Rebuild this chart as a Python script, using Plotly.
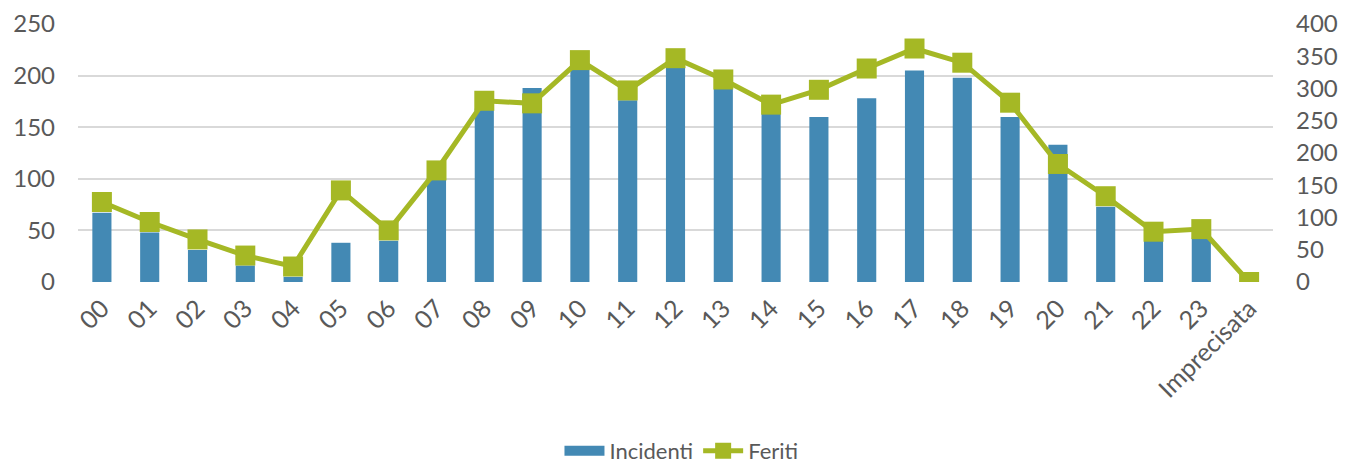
import plotly.graph_objects as go

# fasce orarie
ore = ["00", "01", "02", "03", "04", "05", "06", "07", "08", "09", "10", "11",
       "12", "13", "14", "15", "16", "17", "18", "19", "20", "21", "22", "23",
       "Imprecisata"]

incidenti = [67, 48, 31, 16, 5, 38, 40, 99, 168, 188, 206, 176,
             208, 187, 163, 160, 178, 205, 198, 160, 133, 73, 40, 42, 0]

feriti = [124, 93, 66, 41, 24, 142, 80, 173, 281, 277, 344, 297,
          347, 314, 275, 298, 331, 362, 340, 278, 183, 133, 78, 82, 0]

BLU = "#4389B4"
VERDE = "#A5B825"
GRIGIO = "#595959"
FONT = "Lato"


def plot_incidenti_feriti():
    """
    Incidenti (barre) e feriti (linea) per ora del giorno.
    """

    fig = go.Figure()

    fig.add_trace(go.Bar(
        x=ore,
        y=incidenti,
        name="Incidenti",
        marker=dict(color=BLU, line=dict(width=0)),
        showlegend=False,
        yaxis="y"
    ))

    # voce di legenda con il rettangolo largo come in Excel
    fig.add_trace(go.Scatter(
        x=[ore[0]],
        y=[None],
        name="Incidenti",
        mode="lines",
        line=dict(color=BLU, width=15),
        yaxis="y"
    ))

    fig.add_trace(go.Scatter(
        x=ore,
        y=feriti,
        name="Feriti",
        mode="lines+markers",
        line=dict(color=VERDE, width=5),
        marker=dict(symbol="square", size=20, color=VERDE),
        yaxis="y2"
    ))

    fig.update_layout(
        template="plotly_white",
        width=1346,
        height=465,
        margin=dict(l=78, r=73, t=24, b=183, autoexpand=False),
        font=dict(family=FONT, color=GRIGIO, size=22),
        bargap=0.6,
        showlegend=True,
        legend=dict(
            orientation="h",
            x=0.505,
            xanchor="center",
            y=-0.655,
            yanchor="middle",
            font=dict(size=22, color=GRIGIO),
            itemwidth=40,
            traceorder="normal"
        ),
        xaxis=dict(
            type="category",
            range=[-0.5, len(ore) - 0.5],
            tickangle=-45,
            tickfont=dict(size=25, color=GRIGIO),
            ticklabelstandoff=6,
            showgrid=False,
            showline=False,
            automargin=False,
            ticks=""
        ),
        yaxis=dict(
            range=[0, 250],
            dtick=50,
            gridcolor="#D9D9D9",
            gridwidth=1.5,
            zeroline=False,
            tickfont=dict(size=24, color=GRIGIO),
            automargin=False,
            ticklabelstandoff=22
        ),
        yaxis2=dict(
            range=[0, 400],
            dtick=50,
            overlaying="y",
            side="right",
            showgrid=False,
            zeroline=False,
            tickfont=dict(size=24, color=GRIGIO),
            automargin=False,
            ticklabelstandoff=22
        ),
        plot_bgcolor="white",
        paper_bgcolor="white"
    )

    return fig


fig = plot_incidenti_feriti()
fig.write_html(
    "out.html",
    post_script="document.body.style.margin='0';",
    config={"displayModeBar": False}
)
